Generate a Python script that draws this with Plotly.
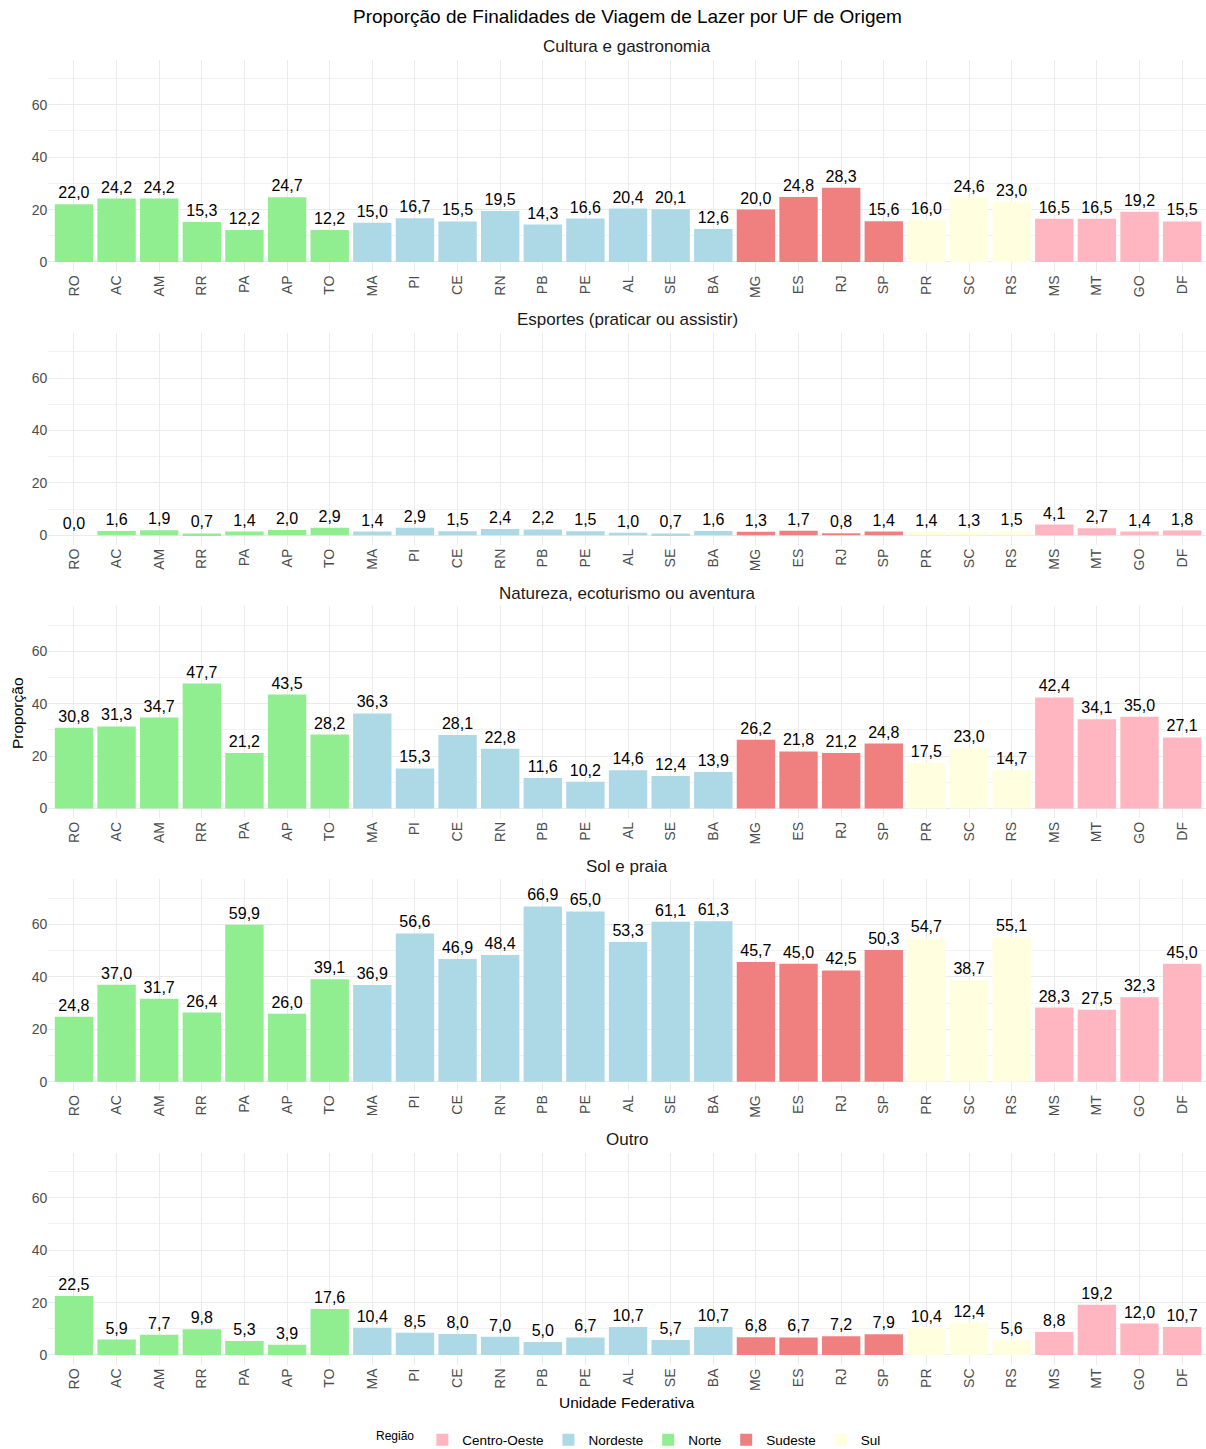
import plotly.graph_objects as go

ufs = ["RO", "AC", "AM", "RR", "PA", "AP", "TO", "MA", "PI", "CE", "RN", "PB", "PE", "AL",
       "SE", "BA", "MG", "ES", "RJ", "SP", "PR", "SC", "RS", "MS", "MT", "GO", "DF"]
regioes = (["Norte"] * 7 + ["Nordeste"] * 9 + ["Sudeste"] * 4 + ["Sul"] * 3 + ["Centro-Oeste"] * 4)

cultura = [22.0, 24.2, 24.2, 15.3, 12.2, 24.7, 12.2, 15.0, 16.7, 15.5, 19.5, 14.3, 16.6, 20.4,
           20.1, 12.6, 20.0, 24.8, 28.3, 15.6, 16.0, 24.6, 23.0, 16.5, 16.5, 19.2, 15.5]
esportes = [0.0, 1.6, 1.9, 0.7, 1.4, 2.0, 2.9, 1.4, 2.9, 1.5, 2.4, 2.2, 1.5, 1.0,
            0.7, 1.6, 1.3, 1.7, 0.8, 1.4, 1.4, 1.3, 1.5, 4.1, 2.7, 1.4, 1.8]
natureza = [30.8, 31.3, 34.7, 47.7, 21.2, 43.5, 28.2, 36.3, 15.3, 28.1, 22.8, 11.6, 10.2, 14.6,
            12.4, 13.9, 26.2, 21.8, 21.2, 24.8, 17.5, 23.0, 14.7, 42.4, 34.1, 35.0, 27.1]
sol_praia = [24.8, 37.0, 31.7, 26.4, 59.9, 26.0, 39.1, 36.9, 56.6, 46.9, 48.4, 66.9, 65.0, 53.3,
             61.1, 61.3, 45.7, 45.0, 42.5, 50.3, 54.7, 38.7, 55.1, 28.3, 27.5, 32.3, 45.0]
outro = [22.5, 5.9, 7.7, 9.8, 5.3, 3.9, 17.6, 10.4, 8.5, 8.0, 7.0, 5.0, 6.7, 10.7,
         5.7, 10.7, 6.8, 6.7, 7.2, 7.9, 10.4, 12.4, 5.6, 8.8, 19.2, 12.0, 10.7]

facet_names = ["Cultura e gastronomia", "Esportes (praticar ou assistir)",
               "Natureza, ecoturismo ou aventura", "Sol e praia", "Outro"]
facet_values = [cultura, esportes, natureza, sol_praia, outro]

legend_order = ["Centro-Oeste", "Nordeste", "Norte", "Sudeste", "Sul"]
colors = {"Centro-Oeste": "#FFB6C1", "Nordeste": "#ADD8E6", "Norte": "#90EE90",
          "Sudeste": "#F08080", "Sul": "#FFFFE0"}

FONT = "Liberation Sans, Arial, sans-serif"
W, H = 1206, 1449
zero_px = [262, 535.25, 808.5, 1081.75, 1355]
ymin, ymax = -3.7, 77.2
ppu = 2.62
x_left, x_right = 48.4, 1206

fig = go.Figure()
annotations = []
layout_axes = {}

for i, (name, vals) in enumerate(zip(facet_names, facet_values)):
    z = zero_px[i]
    top = z - ymax * ppu
    bottom = z - ymin * ppu
    ydom = [1 - bottom / H, 1 - top / H]
    xname = "x" if i == 0 else f"x{i + 1}"
    yname = "y" if i == 0 else f"y{i + 1}"
    for reg in legend_order:
        idx = [j for j, r in enumerate(regioes) if r == reg]
        fig.add_trace(go.Bar(
            x=[ufs[j] for j in idx],
            y=[vals[j] for j in idx],
            text=[f"{vals[j]:.1f}".replace(".", ",") for j in idx],
            textposition="outside",
            textfont=dict(family=FONT, size=16, color="black"),
            constraintext="none",
            cliponaxis=False,
            marker=dict(color=colors[reg], line=dict(width=0)),
            name=reg,
            legendgroup=reg,
            showlegend=(i == 0),
            xaxis=xname,
            yaxis=yname,
            hoverinfo="x+y",
        ))
    layout_axes["xaxis" if i == 0 else f"xaxis{i + 1}"] = dict(
        domain=[x_left / W, x_right / W], anchor=yname,
        type="category", categoryorder="array", categoryarray=ufs,
        range=[-0.6, 26.56], tickangle=-90, showgrid=True, gridcolor="#ebebeb",
        gridwidth=1, zeroline=False, showline=False, ticks="", automargin=False,
        tickfont=dict(family=FONT, size=14, color="#4d4d4d"),
    )
    layout_axes["yaxis" if i == 0 else f"yaxis{i + 1}"] = dict(
        domain=ydom, anchor=xname, range=[ymin, ymax],
        tickmode="linear", tick0=0, dtick=20,
        showgrid=True, gridcolor="#ebebeb", gridwidth=1, zeroline=False,
        showline=False, ticks="", automargin=False,
        minor=dict(showgrid=True, gridcolor="#f2f2f2", gridwidth=1, dtick=10, tick0=0),
        tickfont=dict(family=FONT, size=14, color="#4d4d4d"),
    )
    annotations.append(dict(
        text=name, x=627 / W, y=1 - (top - 13) / H, xref="paper", yref="paper",
        xanchor="center", yanchor="middle", showarrow=False,
        font=dict(family=FONT, size=17, color="#1a1a1a"),
    ))

annotations.append(dict(
    text="Proporção de Finalidades de Viagem de Lazer por UF de Origem",
    x=627 / W, y=1 - 17 / H, xref="paper", yref="paper", xanchor="center", yanchor="middle",
    showarrow=False, font=dict(family=FONT, size=19, color="black"),
))
annotations.append(dict(
    text="Unidade Federativa", x=627 / W, y=1 - 1402 / H, xref="paper", yref="paper",
    xanchor="center", yanchor="middle", showarrow=False,
    font=dict(family=FONT, size=15.5, color="black"),
))
annotations.append(dict(
    text="Proporção", x=17 / W, y=1 - 713 / H, xref="paper", yref="paper",
    xanchor="center", yanchor="middle", textangle=-90, showarrow=False,
    font=dict(family=FONT, size=15.5, color="black"),
))

fig.update_layout(
    width=W, height=H,
    margin=dict(l=0, r=0, t=0, b=0, autoexpand=False),
    paper_bgcolor="white", plot_bgcolor="white",
    barmode="overlay", bargap=0.1,
    annotations=annotations,
    legend=dict(
        orientation="h", x=630 / W, xanchor="center", y=1 - 1440 / H, yanchor="middle",
        title=dict(text="Região", side="left", font=dict(family=FONT, size=12, color="black")),
        font=dict(family=FONT, size=13.5, color="black"),
        traceorder="normal", itemsizing="constant", itemwidth=30,
    ),
    font=dict(family=FONT),
    **layout_axes,
)

fig.write_html(
    "out.html",
    config={"displayModeBar": False},
    post_script="document.body.style.margin='0px';document.body.style.overflow='hidden';",
)
